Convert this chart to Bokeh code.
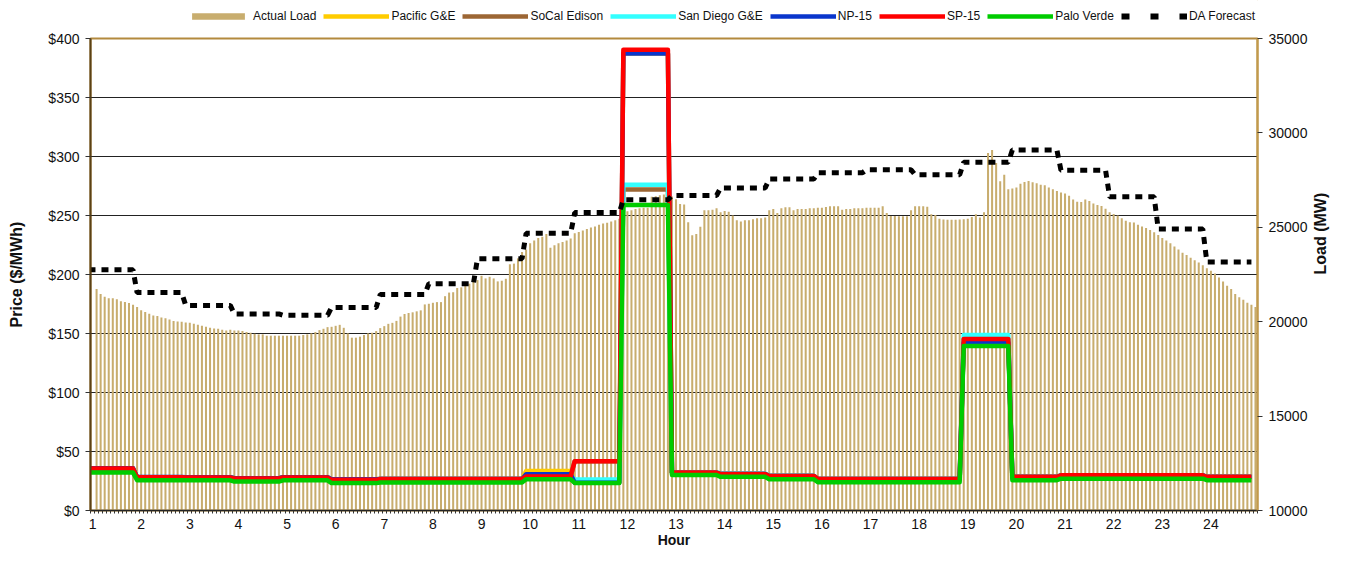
import math
import numpy as np
from bokeh.plotting import figure
from bokeh.layouts import column
from bokeh.models import (Range1d, LinearAxis, FixedTicker, Legend, LegendItem)
from bokeh.embed import file_html
from bokeh.resources import INLINE

# ---------------- data ----------------
hours = [str(h) for h in range(1, 25)]

# 5-minute actual load (MW), 12 intervals per hour (first interval not shown)
actual_load = [
    float("nan"), 21734, 21473, 21316, 21246, 21246, 21194, 21089, 21037, 20985, 20897, 20775,
    20601, 20514, 20427, 20322, 20305, 20218, 20183, 20113, 20043, 20008, 19991, 19956,
    19939, 19887, 19834, 19782, 19730, 19677, 19642, 19625, 19573, 19538, 19573, 19538,
    19538, 19503, 19451, 19416, 19364, 19329, 19329, 19259, 19259, 19259, 19259, 19259,
    19259, 19259, 19259, 19259, 19294, 19329, 19381, 19451, 19555, 19625, 19712, 19730,
    19782, 19834, 19677, 19381, 19154, 19154, 19207, 19294, 19381, 19416, 19503, 19660,
    19765, 19887, 19939, 20043, 20270, 20409, 20462, 20497, 20549, 20601, 20915, 20950,
    21002, 21037, 21037, 21351, 21542, 21560, 21786, 21821, 21891, 22013, 22118, 22205,
    22431, 22292, 22379, 22292, 22135, 22170, 22274, 23041, 23076, 23355, 23686, 23826,
    24157, 24296, 24436, 24505, 24645, 23913, 24052, 24157, 24227, 24296, 24401, 24680,
    24749, 24837, 24906, 24994, 25046, 25133, 25203, 25237, 25307, 25377, 25447, 25656,
    25848, 25900, 25970, 26005, 26039, 26039, 26614, 26649, 26702, 26736, 26771, 26632,
    26492, 26231, 26214, 25272, 24575, 24645, 25028, 25900, 25900, 25935, 26005, 25795,
    25865, 25830, 25621, 25377, 25307, 25377, 25377, 25429, 25481, 25481, 25516, 25900,
    25970, 25760, 26005, 26057, 26057, 25900, 25970, 25970, 25970, 26005, 26005, 26039,
    26039, 26074, 26109, 26109, 26109, 25935, 25970, 25970, 26005, 26005, 26005, 26039,
    26039, 26039, 26039, 26109, 25760, 25603, 25603, 25586, 25586, 25586, 25900, 26109,
    26109, 26109, 26092, 25691, 25656, 25447, 25412, 25395, 25395, 25395, 25412, 25430,
    25447, 25552, 25691, 25517, 25796, 28933, 29090, 28410, 27434, 27783, 27016, 27051,
    27103, 27312, 27399, 27451, 27382, 27329, 27260, 27225, 27103, 27016, 26929, 26841,
    26789, 26667, 26475, 26353, 26336, 26475, 26388, 26266, 26179, 26127, 25987, 25796,
    25708, 25621, 25482, 25342, 25273, 25255, 25133, 25046, 24959, 24854, 24732, 24593,
    24436, 24297, 24157, 23983, 23826, 23652, 23530, 23390, 23251, 23129, 22989, 22833,
    22693, 22554, 22344, 22135, 21909, 21734, 21473, 21299, 21160, 21002, 20898, 20776,
]

# hourly prices ($/MWh)
pacific_ge = [35.5, 28.2, 28.1, 27.3, 28.1, 26.5, 26.6, 26.6, 26.6, 33.5, 23.6, 387.2,
              32.1, 31.0, 29.3, 26.8, 26.8, 26.8, 142.3, 28.5, 29.8, 29.8, 29.8, 28.5]
socal_edison = [35.6, 28.2, 28.1, 27.3, 28.1, 26.3, 26.8, 26.8, 26.8, 29.2, 41.8, 272.0,
                32.1, 31.0, 29.3, 26.8, 26.8, 26.8, 145.4, 28.5, 29.8, 29.8, 29.8, 28.5]
san_diego_ge = [35.5, 28.2, 28.1, 27.3, 28.1, 26.3, 26.8, 26.8, 26.8, 29.0, 26.2, 276.0,
                32.5, 31.4, 29.5, 26.8, 26.8, 26.8, 148.7, 28.6, 29.9, 29.9, 29.9, 28.6]
np15 = [35.7, 28.3, 28.2, 27.4, 28.2, 26.5, 26.6, 26.6, 26.6, 30.7, 23.6, 387.2,
        32.0, 30.9, 29.2, 26.7, 26.7, 26.7, 142.3, 28.4, 29.7, 29.7, 29.7, 28.4]
sp15 = [35.5, 28.1, 28.0, 27.2, 28.0, 26.0, 26.8, 26.8, 26.8, 28.9, 41.8, 390.5,
        32.1, 31.0, 29.3, 26.8, 26.8, 26.8, 145.4, 28.5, 29.8, 29.8, 29.8, 28.5]
palo_verde = [32.1, 25.7, 25.6, 24.5, 25.6, 23.2, 23.8, 23.8, 23.8, 26.5, 23.4, 258.8,
              30.1, 28.5, 26.5, 24.0, 24.0, 24.0, 139.5, 25.7, 27.0, 27.0, 27.0, 25.7]

# hourly day-ahead load forecast (MW)
da_forecast = [22745, 21542, 20862, 20409, 20340, 20758, 21438, 22013, 23338, 24680, 25778, 26458,
               26684, 27085, 27556, 27887, 28044, 27783, 28445, 29090, 28027, 26615, 24907, 23164]

price_ticks = [0, 50, 100, 150, 200, 250, 300, 350, 400]
load_ticks = [10000, 15000, 20000, 25000, 30000, 35000]

# ---------------- styles ----------------
FONT = "Liberation Sans"
BAR_COLOR = "#C8AD6E"
series = [
    ("Pacific G&E", pacific_ge, "#FFCC00"),
    ("SoCal Edison", socal_edison, "#9C6634"),
    ("San Diego G&E", san_diego_ge, "#33FFFF"),
    ("NP-15", np15, "#0A36CC"),
    ("SP-15", sp15, "#FF0000"),
    ("Palo Verde", palo_verde, "#00CC00"),
]

n = len(actual_load)
per_hour = n // len(hours)
bar_x = np.arange(1, n + 1)
line_x = np.arange(0, n)

W, H = 1340, 551
LEG_H = 30
TOP, BOTTOM, LEFT, RIGHT = 8, 41, 90, 81

# ---------------- legend strip ----------------
# placeholder renderers sit outside the strip's visible range; they only supply
# the legend swatch styles
lg = figure(width=W, height=LEG_H, x_range=Range1d(0, 1), y_range=Range1d(0, 1),
            output_backend="svg", toolbar_location=None,
            min_border=0, x_axis_location=None, y_axis_location=None)
lg.outline_line_color = None
lg.grid.grid_line_color = None
off = [5, 6]
lg_items = [LegendItem(label="Actual Load",
                       renderers=[lg.vbar(x=off, top=off, bottom=4, width=0.5,
                                          fill_color=BAR_COLOR, line_color=None)])]
for name, _, col in series:
    lg_items.append(LegendItem(label=name,
                               renderers=[lg.line(off, off, line_color=col, line_width=4.5)]))
lg_items.append(LegendItem(label="DA Forecast",
                           renderers=[lg.line(off, off, line_color="black", line_width=6,
                                              line_dash="8 21", line_cap="butt")]))
legend = Legend(items=lg_items, orientation="horizontal", location=(95, 7),
                glyph_width=66, glyph_height=8, label_standoff=2, spacing=7,
                padding=0, margin=0, label_height=12, label_width=0,
                label_text_font=FONT, label_text_font_size="12px",
                label_text_color="#111111",
                border_line_color=None, background_fill_alpha=0)
lg.add_layout(legend)

# ---------------- main chart ----------------
p = figure(width=W, height=H - LEG_H, x_range=Range1d(0.5, n + 0.5), y_range=Range1d(0, 400),
           output_backend="svg", toolbar_location=None,
           min_border_left=LEFT, min_border_right=RIGHT, min_border_top=TOP,
           min_border_bottom=BOTTOM)
p.extra_y_ranges = {"load": Range1d(10000, 35000)}
p.background_fill_color = "white"
p.border_fill_color = "white"
p.outline_line_color = "#B38A3E"
p.outline_line_width = 2

p.vbar(x=bar_x, top=actual_load, bottom=10000, width=0.5, y_range_name="load",
       fill_color=BAR_COLOR, line_color=None)
for name, vals, col in series:
    p.line(line_x, np.repeat(vals, per_hour), line_color=col, line_width=4.5,
           line_join="round")
p.line(line_x, np.repeat(da_forecast, per_hour), y_range_name="load", line_color="black",
       line_width=5, line_dash="7 6", line_cap="butt")

# grid
p.xgrid.grid_line_color = None
p.ygrid.ticker = FixedTicker(ticks=price_ticks)
p.ygrid.grid_line_color = "#222222"
p.ygrid.grid_line_width = 1

# left axis
la = p.yaxis[0]
la.ticker = FixedTicker(ticks=price_ticks)
la.major_label_overrides = {t: "$%d" % t for t in price_ticks}
la.axis_line_color = "#5A4116"
la.axis_line_width = 2
la.major_tick_line_color = "#333333"
la.major_tick_out = 5
la.major_tick_in = 0
la.minor_tick_line_color = None
la.major_label_standoff = 6
la.major_label_text_font = FONT
la.major_label_text_font_size = "14px"
la.major_label_text_color = "#111111"
la.axis_label = "Price ($/MWh)"
la.axis_label_text_font = FONT
la.axis_label_text_font_style = "bold"
la.axis_label_text_font_size = "16px"
la.axis_label_text_color = "#111111"
la.axis_label_standoff = 20

# right axis
ra = LinearAxis(y_range_name="load", ticker=FixedTicker(ticks=load_ticks))
ra.axis_line_color = "#C29A4B"
ra.axis_line_width = 2
ra.major_tick_line_color = "#333333"
ra.major_tick_out = 5
ra.major_tick_in = 0
ra.minor_tick_line_color = None
ra.major_label_standoff = 6
ra.major_label_text_font = FONT
ra.major_label_text_font_size = "14px"
ra.major_label_text_color = "#111111"
ra.axis_label = "Load (MW)"
ra.axis_label_text_font = FONT
ra.axis_label_text_font_style = "bold"
ra.axis_label_text_font_size = "16px"
ra.axis_label_text_color = "#111111"
ra.axis_label_standoff = 10
ra.axis_label_orientation = math.pi / 2
p.add_layout(ra, "right")

# bottom axis
xa = p.xaxis[0]
major = [1 + per_hour * k for k in range(len(hours))]
xa.ticker = FixedTicker(ticks=major, minor_ticks=[0.5 + i for i in range(n + 1)])
xa.major_label_overrides = {t: h for t, h in zip(major, hours)}
xa.axis_line_color = "#222222"
xa.axis_line_width = 1.5
xa.major_tick_line_color = None
xa.major_tick_out = 3
xa.minor_tick_line_color = "#333333"
xa.minor_tick_out = 3
xa.minor_tick_in = 0
xa.major_label_standoff = 5
xa.major_label_text_font = FONT
xa.major_label_text_font_size = "14px"
xa.major_label_text_color = "#111111"
xa.axis_label = "Hour"
xa.axis_label_text_font = FONT
xa.axis_label_text_font_style = "bold"
xa.axis_label_text_font_size = "14px"
xa.axis_label_text_color = "#111111"
xa.axis_label_standoff = 0

layout = column(lg, p, spacing=0)
open("out.html", "w").write(file_html(layout, INLINE))
